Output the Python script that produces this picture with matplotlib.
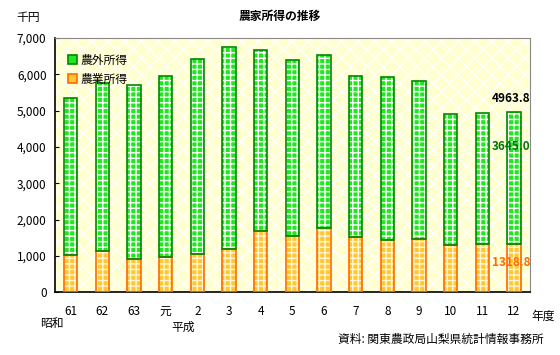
import matplotlib
matplotlib.use("Agg")
import matplotlib.pyplot as plt
from matplotlib.patches import Rectangle, Patch
from matplotlib.ticker import FuncFormatter
import numpy as np

plt.rcParams['font.family'] = ['Noto Sans CJK JP', 'DejaVu Sans']
plt.rcParams['hatch.linewidth'] = 1.0

categories = ["61", "62", "63", "元", "2", "3", "4", "5", "6", "7", "8", "9", "10", "11", "12"]
total_income = [5350, 5760, 5700, 5950, 6420, 6750, 6670, 6400, 6530, 5950, 5920, 5810, 4900, 4930, 4963.8]
farm_income = [1010, 1130, 925, 960, 1040, 1175, 1675, 1540, 1760, 1520, 1450, 1460, 1300, 1320, 1318.8]
nonfarm_income = [t - f for t, f in zip(total_income, farm_income)]
yticks = [0, 1000, 2000, 3000, 4000, 5000, 6000, 7000]

fig = plt.figure(figsize=(5.6, 3.55), dpi=100)
ax = fig.add_axes([0.098, 0.177, 0.848, 0.716])

x = np.arange(len(categories))
w = 0.42

# background
ax.set_facecolor('#FFFFD0')
ax.add_patch(Rectangle((0, 0), 1, 1, transform=ax.transAxes, facecolor='none',
                       edgecolor='white', hatch='xx', lw=0, zorder=0))

GREEN_FACE = '#22E622'
ORANGE_FACE = '#FFC833'

# farm income (orange checker)
ax.bar(x, farm_income, w, color=ORANGE_FACE, edgecolor='#FFF6D8', hatch='+++', lw=0, zorder=2)
ax.bar(x, farm_income, w, fill=False, edgecolor='#FF6A00', lw=1.2, zorder=3)
# non-farm income (green checker)
ax.bar(x, nonfarm_income, w, bottom=farm_income, color=GREEN_FACE, edgecolor='white',
       hatch='+++', lw=0, zorder=2)
ax.bar(x, nonfarm_income, w, bottom=farm_income, fill=False, edgecolor='#008800', lw=1.2, zorder=3)

ax.set_xlim(-0.5, len(categories) - 0.5)
ax.set_ylim(0, 7000)
ax.set_yticks(yticks)
ax.yaxis.set_major_formatter(FuncFormatter(lambda v, p: f"{int(v):,}"))
ax.set_xticks(x)
ax.set_xticklabels(categories)
ax.tick_params(axis='y', direction='in', length=3, labelsize=8.5, pad=6)
ax.tick_params(axis='x', length=0, labelsize=8.5, pad=9)

for s in ['top', 'right']:
    ax.spines[s].set_color('#888888')
for s in ['left', 'bottom']:
    ax.spines[s].set_color('black')
    ax.spines[s].set_linewidth(1.2)

# legend
h1 = Patch(facecolor=GREEN_FACE, edgecolor='#008800', lw=1.2, label='農外所得')
h2 = Patch(facecolor=ORANGE_FACE, edgecolor='#FF6A00', lw=1.2, label='農業所得')
leg = ax.legend(handles=[h1, h2], loc='upper left', bbox_to_anchor=(0.005, 0.98), frameon=False,
                fontsize=8.5, handlelength=0.8, handleheight=0.8, handletextpad=0.3, labelspacing=0.5)

# annotations
last = len(categories) - 1
ax.text(last - 0.1, total_income[-1] + 200, f"{total_income[-1]:.1f}", ha='center', va='bottom',
        fontsize=8.5, fontweight='bold', color='black', zorder=5)
ax.text(last - 0.1, 4000, f"{nonfarm_income[-1]:.1f}",
        ha='center', va='center', fontsize=8.5, fontweight='bold', color='#007700', zorder=5)
ax.text(last - 0.1, 830, f"{farm_income[-1]:.1f}", ha='center', va='center',
        fontsize=8.5, fontweight='bold', color='#FF6A00', zorder=5)

fig.text(0.5, 0.955, '農家所得の推移', ha='center', va='center', fontsize=8.5, fontweight='bold')
fig.text(0.05, 0.952, '千円', ha='center', va='center', fontsize=8.5)
fig.text(0.093, 0.088, '昭和', ha='center', va='center', fontsize=8.5)
fig.text(0.327, 0.077, '平成', ha='center', va='center', fontsize=8.5)
fig.text(0.97, 0.11, '年度', ha='center', va='center', fontsize=8.5)
fig.text(0.97, 0.045, '資料: 関東農政局山梨県統計情報事務所', ha='right', va='center', fontsize=8.5)

fig.savefig('out.png', dpi=100)
